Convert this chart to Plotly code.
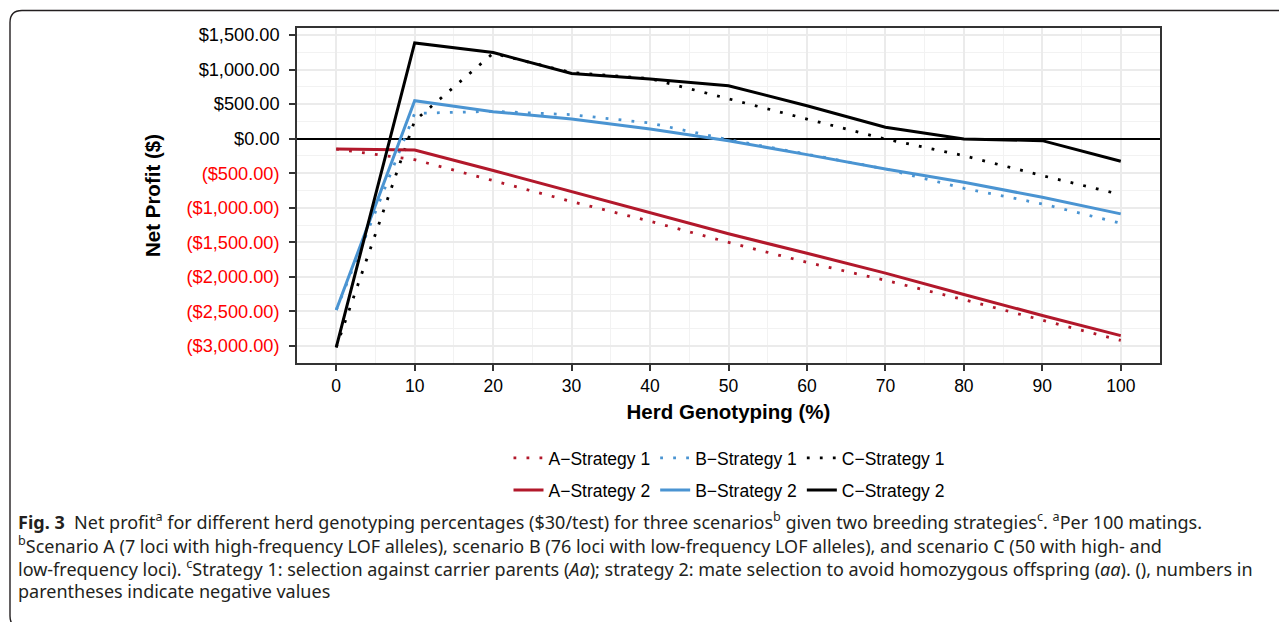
import plotly.graph_objects as go

# ---------------- data ----------------
herd_pct = [0, 10, 20, 30, 40, 50, 60, 70, 80, 90, 100]
a_strategy1 = [-150, -305, -607, -910, -1195, -1500, -1790, -2050, -2330, -2620, -2920]
a_strategy2 = [-150, -165, -461, -763, -1065, -1377, -1657, -1946, -2254, -2558, -2850]
b_strategy1 = [-2480, 366, 395, 347, 226, -15, -225, -438, -718, -944, -1224]
b_strategy2 = [-2480, 549, 390, 284, 140, -29, -231, -438, -631, -848, -1088]
c_strategy1 = [-3020, 260, 1235, 955, 870, 573, 284, -5, -246, -535, -809]
c_strategy2 = [-3020, 1385, 1247, 944, 862, 766, 477, 164, -5, -29, -327]

x_tick_values = [0, 10, 20, 30, 40, 50, 60, 70, 80, 90, 100]
x_tick_labels = ["0", "10", "20", "30", "40", "50", "60", "70", "80", "90", "100"]
y_tick_values = [1500, 1000, 500, 0, -500, -1000, -1500, -2000, -2500, -3000]
y_tick_labels = ["$1,500.00", "$1,000.00", "$500.00", "$0.00", "($500.00)",
                 "($1,000.00)", "($1,500.00)", "($2,000.00)", "($2,500.00)", "($3,000.00)"]

caption_lines = [
    "<b>Fig. 3</b>  Net profit<sup>a</sup> for different herd genotyping percentages ($30/test) for three scenarios<sup>b</sup> given two breeding strategies<sup>c</sup>. <sup>a</sup>Per 100 matings.",
    "<sup>b</sup>Scenario A (7 loci with high-frequency LOF alleles), scenario B (76 loci with low-frequency LOF alleles), and scenario C (50 with high- and",
    "low-frequency loci). <sup>c</sup>Strategy 1: selection against carrier parents (<i>Aa</i>); strategy 2: mate selection to avoid homozygous offspring (<i>aa</i>). (), numbers in",
    "parentheses indicate negative values",
]

# ---------------- style ----------------
RED = "#B2182B"
BLUE = "#4A94D2"
BLACK = "#000000"
FONT = "Liberation Sans, Arial, sans-serif"
CAP_FONT = "Noto Sans, Open Sans, sans-serif"

OFF = 8  # page body margin offset
W, H = 1287 - OFF, 622 - OFF
PL, PR, PT, PB = 297 - OFF, 1160 - OFF, 28 - OFF, 363 - OFF


def fx(px):
    return (px - OFF - PL) / (PR - PL)


def fy(py):
    return (PB - (py - OFF)) / (PB - PT)


fig = go.Figure()

series = [
    ("A\u2212Strategy 1", a_strategy1, RED, "dot", "legend"),
    ("B\u2212Strategy 1", b_strategy1, BLUE, "dot", "legend"),
    ("C\u2212Strategy 1", c_strategy1, BLACK, "dot", "legend"),
    ("A\u2212Strategy 2", a_strategy2, RED, "solid", "legend2"),
    ("B\u2212Strategy 2", b_strategy2, BLUE, "solid", "legend2"),
    ("C\u2212Strategy 2", c_strategy2, BLACK, "solid", "legend2"),
]
for name, vals, col, style, leg in series:
    if style == "dot":
        line = dict(color=col, width=2.8, dash="2.8px,10.2px")
    else:
        line = dict(color=col, width=3)
    fig.add_trace(go.Scatter(x=herd_pct, y=vals, mode="lines", name=name,
                             line=line, legend=leg))

ytext = []
for lab in y_tick_labels:
    if lab.startswith("("):
        ytext.append("<span style='color:#FF0000'>" + lab + "</span>")
    else:
        ytext.append(lab)

# outer rounded frame (caption box), in viewport pixels
r = 12
x0, y0, x1, y1 = 10, 10.5, 1300, 628
path = (f"M {fx(x1)},{fy(y0)} L {fx(x0 + r)},{fy(y0)} "
        f"Q {fx(x0)},{fy(y0)} {fx(x0)},{fy(y0 + r)} "
        f"L {fx(x0)},{fy(y1 - r)} Q {fx(x0)},{fy(y1)} {fx(x0 + r)},{fy(y1)} "
        f"L {fx(x1)},{fy(y1)}")

annotations = []
cap_y = [521, 545, 568, 591]
for txt, yy in zip(caption_lines, cap_y):
    annotations.append(dict(text=txt, xref="paper", yref="paper", x=fx(16), y=fy(yy),
                            xanchor="left", yanchor="middle", showarrow=False, align="left",
                            font=dict(family=CAP_FONT, size=18, color="#231f20")))

leg_common = dict(orientation="h", xanchor="center", yanchor="middle",
                  font=dict(size=17.5, color="black"), bgcolor="rgba(0,0,0,0)",
                  itemwidth=30)

fig.update_layout(
    width=W, height=H,
    margin=dict(l=PL, r=W - PR, t=PT, b=H - PB, pad=0),
    paper_bgcolor="white", plot_bgcolor="white",
    font=dict(family=FONT, color="black"),
    showlegend=True,
    legend=dict(x=fx(729), y=fy(458), **leg_common),
    legend2=dict(x=fx(729), y=fy(490), **leg_common),
    xaxis=dict(range=[-5, 105], tickmode="array", tickvals=x_tick_values, ticktext=x_tick_labels,
               showgrid=True, gridcolor="#EBEBEB", gridwidth=2,
               minor=dict(dtick=5, tick0=0, showgrid=True, gridcolor="#F2F2F2", gridwidth=1, ticks=""),
               zeroline=False, showline=True, linecolor="#333333", linewidth=1.6, mirror=True,
               ticks="outside", ticklen=6, tickwidth=1.6, tickcolor="#333333",
               tickfont=dict(size=17.5, color="black"),
               title=dict(text="<b>Herd Genotyping (%)</b>", font=dict(size=20.5, color="black"), standoff=10)),
    yaxis=dict(range=[-3246, 1601], tickmode="array", tickvals=y_tick_values, ticktext=ytext,
               showgrid=True, gridcolor="#EBEBEB", gridwidth=2,
               minor=dict(dtick=250, tick0=0, showgrid=True, gridcolor="#F2F2F2", gridwidth=1, ticks=""),
               zeroline=True, zerolinecolor="black", zerolinewidth=1.5,
               showline=True, linecolor="#333333", linewidth=1.6, mirror=True,
               ticks="outside", ticklen=6, tickwidth=1.6, tickcolor="#333333",
               tickfont=dict(size=18.2, color="black"), ticklabelstandoff=6,
               title=dict(text="<b>Net Profit ($)</b>", font=dict(size=20.5, color="black"), standoff=20)),
    shapes=[dict(type="path", path=path, xref="paper", yref="paper",
                 line=dict(color="#231f20", width=1.4), layer="above")],
    annotations=annotations,
)

fig.write_html("out.html")
